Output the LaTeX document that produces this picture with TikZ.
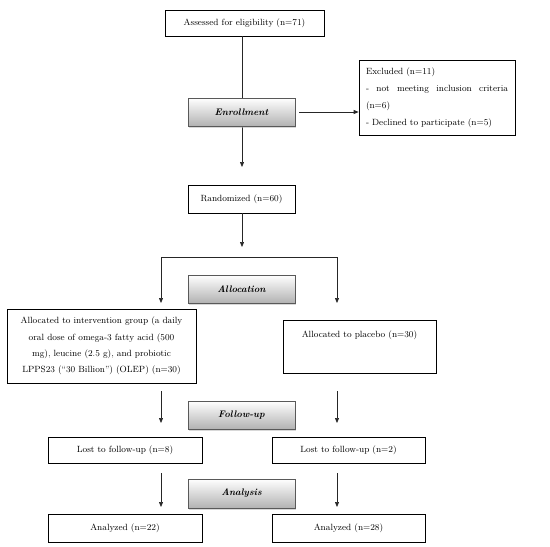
\documentclass[tikz,border=0pt]{standalone}
\usetikzlibrary{arrows.meta,shadows}
\begin{document}
\begin{tikzpicture}[x=1pt,y=-1pt,
  every node/.style={font=\fontsize{9}{16}\selectfont},
  box/.style={draw=black,line width=0.7pt,rectangle,inner sep=2pt,align=center},
  stage/.style={draw=gray!70!black,line width=0.5pt,rectangle,minimum width=107pt,minimum height=28pt,
    top color=white,bottom color=gray!60,drop shadow={shadow xshift=1.2pt,shadow yshift=-1.5pt,fill=gray!60},
    font=\fontsize{9.5}{10}\selectfont\bfseries\itshape},
  arr/.style={draw=black!85,line width=0.7pt,-{Triangle[length=5pt,width=4pt]}},
  ln/.style={draw=black!85,line width=0.7pt}]
\useasboundingbox (0,0) rectangle (550,547);
\node[box,minimum width=159pt,minimum height=26pt] (assess) at (244.5,23) {Assessed for eligibility (n=71)};
\node[box,minimum width=107pt,minimum height=28pt] (rand) at (241.5,199) {Randomized (n=60)};
\coordinate (enrarr) at (242,167);
\draw[arr] (assess.south -| enrarr) -- (enrarr);
\node[box,minimum width=156pt,minimum height=75pt,text width=142pt,align=left,font=\fontsize{9}{17}\selectfont] (excl) at (437,98)
  {Excluded (n=11)\\ \makebox[142pt][l]{-\hfill not\hfill meeting\hfill inclusion\hfill criteria}\\ (n=6)\\ - Declined to participate (n=5)};
\node[stage] (enr) at (241.5,112) {Enrollment};
\draw[arr] ([xshift=4pt]enr.east) -- (excl.west |- enr.east);
% randomization split
\coordinate (ra) at (242,247);
\draw[arr] (rand.south -| ra) -- (ra);
\coordinate (sl) at (161,257);
\coordinate (sr) at (337,257);
\coordinate (el) at (161,303);
\coordinate (er) at (337,303);
\draw[arr] (sl) -- (el);
\draw[arr] (sr) -- (er);
\draw[ln] (sl) -- (sr);
\node[stage] (alloc) at (241.5,289) {Allocation};
\node[box,minimum width=189pt,minimum height=74pt,font=\fontsize{9}{16.3}\selectfont] (interv) at (101.5,346)
  {Allocated to intervention group (a daily\\ oral dose of omega-3 fatty acid (500\\ mg), leucine (2.5 g), and probiotic\\ LPPS23 (``30 Billion'') (OLEP) (n=30)};
\node[draw=black,line width=0.7pt,rectangle,minimum width=153pt,inner sep=0pt,text height=17pt,text depth=36pt,anchor=north] (plac) at (359.5,320)
  {Allocated to placebo (n=30)};
% follow-up
\node[stage] (fu) at (241.5,415) {Follow-up};
\node[box,minimum width=154pt,minimum height=26pt] (lostl) at (125,450) {Lost to follow-up (n=8)};
\node[box,minimum width=153pt,minimum height=26pt] (lostr) at (348.5,450) {Lost to follow-up (n=2)};
\coordinate (fl1) at (161,391); \coordinate (fl2) at (161,423);
\coordinate (fr1) at (337,391); \coordinate (fr2) at (337,423);
\draw[arr] (fl1) -- (fl2);
\draw[arr] (fr1) -- (fr2);
% analysis
\node[stage,minimum height=29pt] (ana) at (241.5,493.5) {Analysis};
\node[box,minimum width=154pt,minimum height=28pt] (anl) at (125,528) {Analyzed (n=22)};
\node[box,minimum width=153pt,minimum height=28pt] (anr) at (348.5,528) {Analyzed (n=28)};
\coordinate (al1) at (161,473); \coordinate (al2) at (161,507);
\coordinate (ar1) at (337,473); \coordinate (ar2) at (337,507);
\draw[arr] (al1) -- (al2);
\draw[arr] (ar1) -- (ar2);
\end{tikzpicture}
\end{document}
